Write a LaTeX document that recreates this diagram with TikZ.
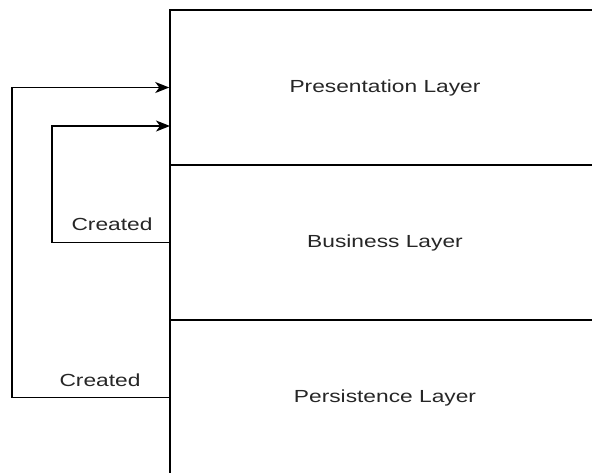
\documentclass[tikz,border=0pt]{standalone}
\usepackage{fontspec}
\setmainfont{Liberation Sans}[FakeStretch=1.3]
\usetikzlibrary{arrows.meta}

\tikzset{
  layer/.style={draw,line width=1.5pt,minimum width=430pt,minimum height=155pt,
    inner sep=0pt,text=black!85,font=\fontsize{17.5}{20}\selectfont},
  lbl/.style={text=black!85,font=\fontsize{17.5}{20}\selectfont},
  link/.style={line width=1.5pt,-{Stealth[length=14pt,width=11pt,inset=4pt]}}
}

\begin{document}
\begin{tikzpicture}[x=1pt,y=-1pt]
  \useasboundingbox (0,0) rectangle (592,472);
  \clip (0,0) rectangle (592,472);
  \node[layer] (pres) at (385,87.5) {Presentation Layer};
  \node[layer] (bus) at (385,242.5) {Business Layer};
  \node[layer] (pers) at (385,397.5) {Persistence Layer};
  \coordinate (inA) at (170,126);
  % loops back to the top layer
  \draw[link] (bus.west) -- (52,242.5) |- (inA);
  \draw[link] (pers.west) -- (12,397.5) |- (pres.west);
  \node[lbl] (c1) at (112,224) {Created};
  \node[lbl] (c2) at (100,380) {Created};
\end{tikzpicture}
\end{document}
